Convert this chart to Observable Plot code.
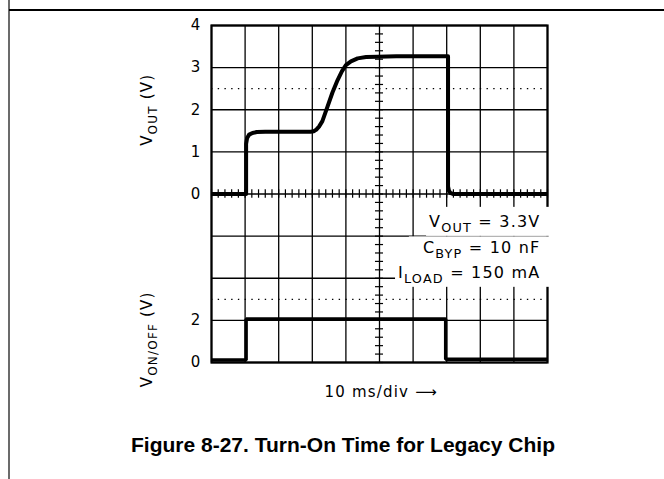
<!DOCTYPE html>
<html><head><meta charset="utf-8">
<script src="https://cdn.jsdelivr.net/npm/d3@7"></script>
<script src="https://cdn.jsdelivr.net/npm/@observablehq/plot@0.6"></script>
<style>
html,body{margin:0;padding:0;background:#fff;}
#wrap{position:relative;width:664px;height:479px;overflow:hidden;}
#vline{position:absolute;left:8px;top:0;width:2px;height:479px;background:#6b6b6b;}
#hline{position:absolute;left:9px;right:0;top:9px;height:2px;background:#000;}
#chart{position:absolute;left:0;top:0;}
#caption{position:absolute;left:11px;width:664px;top:433px;text-align:center;font:bold 21px "Liberation Sans",Arial,sans-serif;color:#000;}
</style></head><body>
<div id="wrap"><div id="vline"></div><div id="hline"></div><div id="chart"></div><div id="caption">Figure 8-27. Turn-On Time for Legacy Chip</div></div>
<script>
// Time in divisions (10 ms/div), voltages in volts
const vOutTime  = [0, 1.03, 1.03, 1.06, 1.12, 1.22, 1.35, 1.6, 2.6, 2.95, 3.05, 3.12, 3.2, 3.3, 3.45, 3.6, 3.75, 3.88, 4.0, 4.15, 4.35, 4.6, 4.95, 5.5, 7.04, 7.04, 7.07, 7.12, 7.2, 10];
const vOutVolts = [0, 0, 1.19, 1.33, 1.41, 1.45, 1.47, 1.48, 1.48, 1.48, 1.49, 1.53, 1.6, 1.73, 2.07, 2.41, 2.7, 2.91, 3.06, 3.15, 3.22, 3.25, 3.26, 3.27, 3.27, 0.18, 0.07, 0.02, 0, 0];
const onOffTime  = [0, 1.03, 1.03, 6.97, 6.97, 10];
const onOffVolts = [0.12, 0.12, 2.07, 2.07, 0.16, 0.16];
const vOutTicks = [0, 1, 2, 3, 4];
const onOffTicks = [0, 2];
const vOutDotted = [2.5];
const onOffDotted = [3];
const conditions = ["V_{OUT} = 3.3V", "C_{BYP} = 10 nF", "I_{LOAD} = 150 mA"];
const yLabels = ["V_{OUT} (V)", "V_{ON/OFF} (V)"];
const xLabel = ["10 ms/div \u27F6"];

// screen: 10 x 8 divisions; VOUT 1 V/div with 0 V at division 4; VON/OFF 2 V/div with 0 V at division 0
const vOutDiv = v => v + 4;
const onOffDiv = v => v / 2;
const xDivs = d3.range(0, 11);
const yDivs = d3.range(0, 9);
const xMinor = d3.range(0, 51).map(k => k / 5);
const yMinor = d3.range(0, 41).map(k => k / 5);

const vOut = vOutTime.map((t, i) => ({t, y: vOutDiv(vOutVolts[i])}));
const onOff = onOffTime.map((t, i) => ({t, y: onOffDiv(onOffVolts[i])}));
const tickLabel = new Map([
  ...vOutTicks.map(v => [vOutDiv(v), String(v)]),
  ...onOffTicks.map(v => [onOffDiv(v), String(v)])
]);

const svg = Plot.plot({
  width: 664, height: 420,
  marginLeft: 211, marginRight: 117, marginTop: 25, marginBottom: 58,
  style: "font-family: 'DejaVu Sans', sans-serif; font-size: 15px; background: none; overflow: visible; letter-spacing: 1.2px; color: #000;",
  x: {domain: [0, 10], axis: null},
  y: {domain: [0, 8], ticks: [...tickLabel.keys()], tickFormat: d => tickLabel.get(d), tickSize: 0, tickPadding: 10, label: null},
  marks: [
    Plot.ruleY([...vOutDotted.map(vOutDiv), ...onOffDotted.map(onOffDiv)], {stroke: "#000", strokeWidth: 1.3, strokeDasharray: "1.4 5.32"}),
    Plot.ruleX(xDivs, {stroke: "#000", strokeWidth: 1.3}),
    Plot.ruleY(yDivs, {stroke: "#000", strokeWidth: 1.3}),
    Plot.frame({stroke: "#000", strokeWidth: 2.2}),
    Plot.ruleX(xMinor, {x: d => d, y1: vOutDiv(0) - 0.1, y2: vOutDiv(0) + 0.1, stroke: "#000", strokeWidth: 1.2}),
    Plot.ruleY(yMinor, {y: d => d, x1: 5 - 0.12, x2: 5 + 0.12, stroke: "#000", strokeWidth: 1.2}),
    Plot.text(conditions, {x: 9.79, y: (d, i) => [3.22, 2.59, 2.01][i], text: d => d, textAnchor: "end", lineAnchor: "bottom",
      fontSize: 16, fill: "#000"}),
    Plot.line(onOff, {x: "t", y: "y", stroke: "#000", strokeWidth: 3.5, strokeLinejoin: "miter", strokeLinecap: "butt"}),
    Plot.line(vOut, {x: "t", y: "y", stroke: "#000", strokeWidth: 4, strokeLinejoin: "round", strokeLinecap: "butt"}),
    Plot.text(yLabels, {x: -1.9, y: (d, i) => [6, 0.55][i], text: d => d, rotate: -90, fontSize: 15, fill: "#000"}),
    Plot.text(xLabel, {x: 5.05, y: -0.83, text: d => d, lineAnchor: "bottom", fontSize: 15, fill: "#000"})
  ]
});

document.getElementById("chart").appendChild(svg);

// render subscripts written as _{...}; remember the condition labels
const condTexts = [];
d3.select(svg).selectAll("text").each(function () {
  const t = this.textContent;
  if (conditions.includes(t)) condTexts.push(this);
  if (!t.includes("_{")) return;
  const parts = t.split(/_\{([^}]*)\}/);
  this.textContent = "";
  let shifted = false;
  parts.forEach((p, i) => {
    if (!p) return;
    const ts = document.createElementNS("http://www.w3.org/2000/svg", "tspan");
    if (i % 2 === 1) { ts.setAttribute("font-size", "0.8em"); ts.setAttribute("dy", "5"); shifted = true; }
    else if (shifted) { ts.setAttribute("dy", "-5"); shifted = false; }
    ts.textContent = p;
    this.appendChild(ts);
  });
});

// white label boxes behind the test conditions (measured from the rendered text)
condTexts.forEach((el, i) => {
  const b = el.getBBox();
  const parent = el.parentNode;
  const r = document.createElementNS("http://www.w3.org/2000/svg", "rect");
  const padL = i === 1 ? 14 : 3;
  r.setAttribute("x", b.x - padL);
  r.setAttribute("y", b.y - (i === 0 ? 5 : 2));
  r.setAttribute("width", b.width + padL + 9);
  r.setAttribute("height", b.height + (i === 0 ? 6 : 3));
  r.setAttribute("fill", "white");
  const tr = el.getAttribute("transform");
  if (tr) r.setAttribute("transform", tr);
  parent.insertBefore(r, parent.firstChild);
});
</script>
</body></html>
